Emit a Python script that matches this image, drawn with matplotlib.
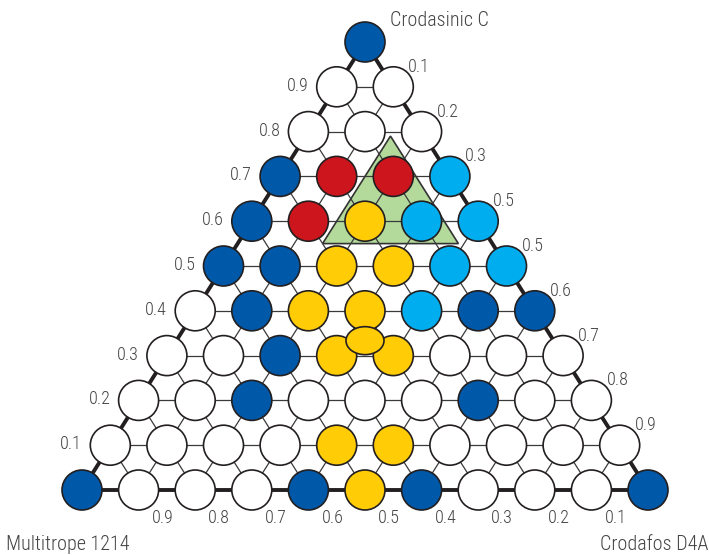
import numpy as np
import matplotlib
matplotlib.use("Agg")
import matplotlib.pyplot as plt
from matplotlib.patches import Ellipse, Polygon

plt.rcParams['font.family'] = ['Roboto Condensed', 'DejaVu Sans']
plt.rcParams['font.weight'] = 'light'

# Ternary grid, 10 divisions. Row r (0 = top vertex) holds r+1 points,
# index i counts from the left edge. Colour code per point.
row_colors = [
    "B",
    "WW",
    "WWW",
    "BRRC",
    "BRYCC",
    "BBYYCC",
    "WBYYCBB",
    "WWBYYWWW",
    "WWBWWWBWW",
    "WWWWYYWWWW",
    "BWWWBYBWWWB",
]
palette = {"B": "#0058a8", "C": "#00aeef", "R": "#cc151d", "Y": "#ffcc05", "W": "#ffffff"}

# centroid blend (1/3, 1/3, 1/3)
center_blend = (1 / 3, 1 / 3, 1 / 3)   # (Multitrope, Crodafos, Crodasinic)
center_color = "#ffcc05"

# shaded region: minimum fractions of each component
region_min_A = 0.06   # Multitrope 1214
region_min_B = 0.15   # Crodafos D4A
region_min_C = 0.55   # Crodasinic C

left_labels = ["0.9", "0.8", "0.7", "0.6", "0.5", "0.4", "0.3", "0.2", "0.1"]
right_labels = ["0.1", "0.2", "0.3", "0.5", "0.5", "0.6", "0.7", "0.8", "0.9"]
bottom_labels = ["0.9", "0.8", "0.7", "0.6", "0.5", "0.4", "0.3", "0.2", "0.1"]
vertex_top = "Crodasinic C"
vertex_left = "Multitrope 1214"
vertex_right = "Crodafos D4A"

N = 10
W, H = 709, 555
fig = plt.figure(figsize=(W / 100, H / 100), dpi=100)
ax = fig.add_axes([0, 0, 1, 1])
ax.set_axis_off()

# pixel geometry of the triangle
x0_px, x1_px = 82.0, 648.0
ybot_px, ytop_px = 490.0, 42.0
sx = x1_px - x0_px
sy = ybot_px - ytop_px
ax.set_xlim(-x0_px / sx, (W - x0_px) / sx)
ax.set_ylim(-(H - ybot_px) / sy, ybot_px / sy)


def tern(a, b, c):
    """(Multitrope, Crodafos, Crodasinic) -> plot coordinates."""
    return b + c / 2.0, c


def px(dx, dy):
    """pixel offset -> data offset (dy positive = up)."""
    return dx / sx, dy / sy


text_color = "#444444"
edge_color = "#231f20"

# interior grid lines
for k in range(1, N):
    f = k / N
    for p, q in [
        (tern(1 - f, 0, f), tern(0, 1 - f, f)),   # constant Crodasinic
        (tern(f, 1 - f, 0), tern(f, 0, 1 - f)),   # constant Multitrope
        (tern(1 - f, f, 0), tern(0, f, 1 - f)),   # constant Crodafos
    ]:
        ax.plot([p[0], q[0]], [p[1], q[1]], color="#3a3a3a", lw=0.9, zorder=1)

# shaded region
verts = [
    tern(region_min_A, region_min_B, 1 - region_min_A - region_min_B),
    tern(1 - region_min_B - region_min_C, region_min_B, region_min_C),
    tern(region_min_A, 1 - region_min_A - region_min_C, region_min_C),
]
ax.add_patch(Polygon(verts, closed=True, facecolor="#b3d99b", edgecolor="#333333",
                     lw=1.2, zorder=0.5))

# outer edges
corners = [tern(1, 0, 0), tern(0, 1, 0), tern(0, 0, 1), tern(1, 0, 0)]
ax.plot([c[0] for c in corners], [c[1] for c in corners], color="#231f20",
        lw=2.8, zorder=2, solid_joinstyle="miter")

# points
dw, dh = 40 / sx, 40 / sy
for r, codes in enumerate(row_colors):
    for i, code in enumerate(codes):
        c = 1 - r / N
        b = i / N
        a = 1 - b - c
        x, y = tern(a, b, c)
        ax.add_patch(Ellipse((x, y), dw, dh, facecolor=palette[code],
                             edgecolor=edge_color, lw=1.2, zorder=3))

cx, cy = tern(*center_blend)
ax.add_patch(Ellipse((cx, cy), 38 / sx, 28 / sy, facecolor=center_color,
                     edgecolor=edge_color, lw=1.2, zorder=4))

fs = 13
# left edge labels (Crodasinic fraction)
for r, lab in enumerate(left_labels, start=1):
    x, y = tern(r / N, 0, 1 - r / N)
    ox, oy = px(-39, 1)
    ax.text(x + ox, y + oy, lab, ha="center", va="center", fontsize=fs, color=text_color)

# right edge labels
for r, lab in enumerate(right_labels, start=1):
    x, y = tern(0, r / N, 1 - r / N)
    ox, oy = px(26, 20)
    ax.text(x + ox, y + oy, lab, ha="center", va="center", fontsize=fs, color=text_color)

# bottom edge labels
for i, lab in enumerate(bottom_labels, start=1):
    x, y = tern(1 - i / N, i / N, 0)
    ox, oy = px(24, -28)
    ax.text(x + ox, y + oy, lab, ha="center", va="center", fontsize=fs, color=text_color)

# vertex names
vfs = 14.5
tx, ty = tern(0, 0, 1)
ax.text(tx + px(25, 0)[0], ty + px(0, 21)[1], vertex_top, ha="left", va="center",
        fontsize=vfs, color=text_color)
ax.text((6 - x0_px) / sx, -(545 - ybot_px) / sy, vertex_left, ha="left", va="center",
        fontsize=vfs, color=text_color)
ax.text((708 - x0_px) / sx, -(545 - ybot_px) / sy, vertex_right, ha="right", va="center",
        fontsize=vfs, color=text_color)

fig.savefig("out.png", dpi=100)
